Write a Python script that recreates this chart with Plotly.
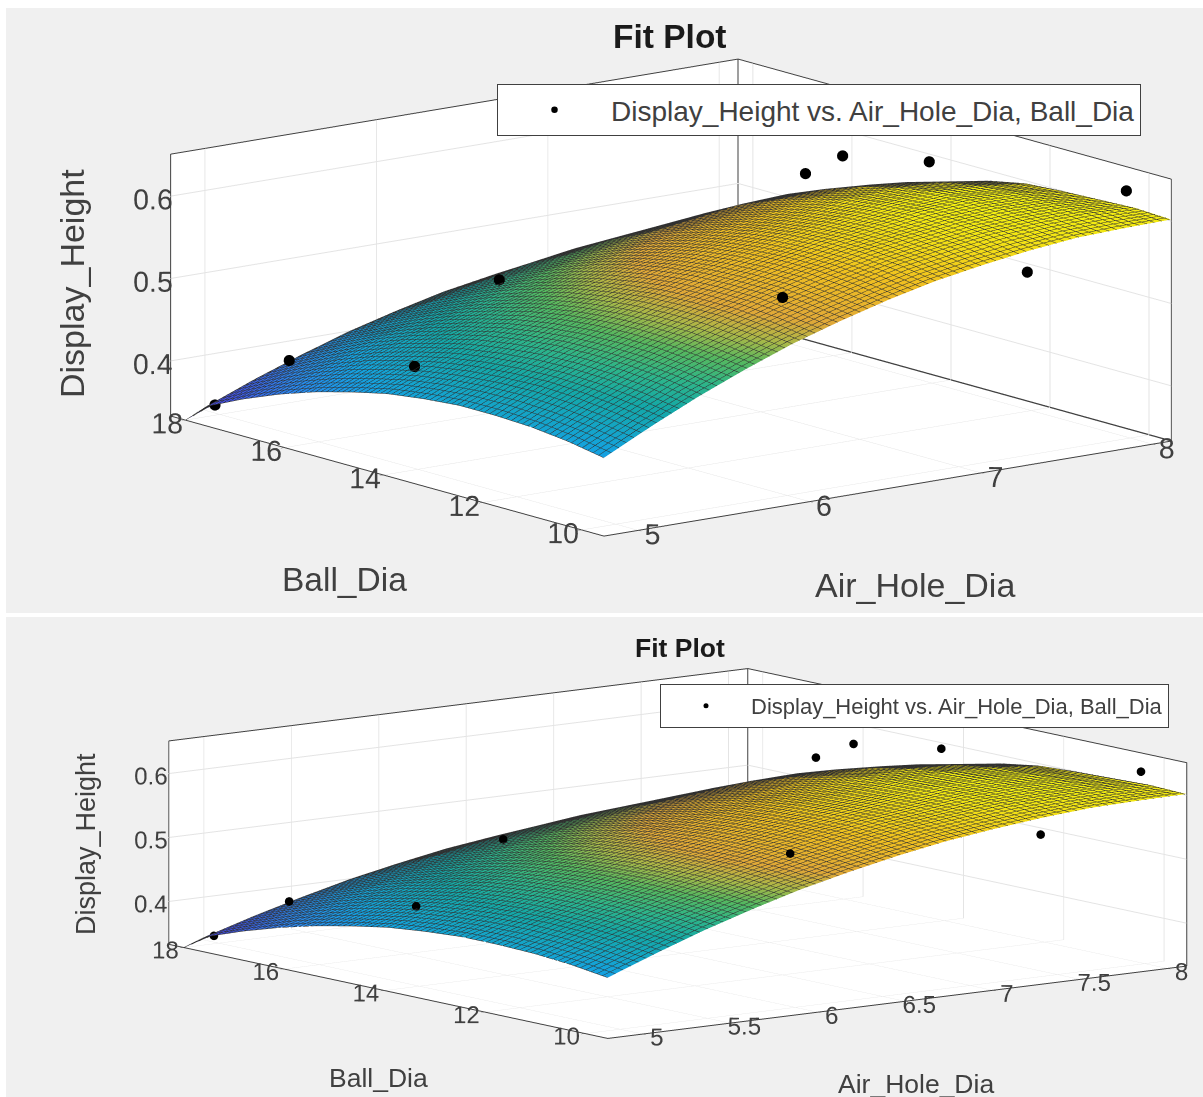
import plotly.graph_objects as go

AIR_GRID = [4.80, 5.08, 5.35, 5.63, 5.90, 6.18, 6.46, 6.73, 7.01, 7.28, 7.56, 7.83, 8.11]
BALL_GRID = [18.0, 17.57, 16.84, 16.11, 15.38, 14.65, 13.93, 13.20, 12.47, 11.74, 11.01, 10.28, 9.55]
H_B1800 = [.333, .356, .376, .393, .408, .420, .430, .437, .441, .443, .442, .439, .433]
H_B1757 = [.357, .380, .400, .419, .434, .448, .458, .466, .472, .474, .474, .470, .463]
H_B1684 = [.378, .401, .422, .441, .458, .472, .484, .493, .499, .502, .502, .498, .490]
H_B1611 = [.396, .420, .442, .461, .478, .493, .506, .516, .523, .529, .530, .526, .517]
H_B1538 = [.411, .436, .458, .478, .496, .512, .525, .536, .544, .552, .555, .551, .541]
H_B1465 = [.423, .448, .471, .492, .510, .527, .541, .552, .561, .570, .573, .569, .560]
H_B1393 = [.433, .458, .482, .503, .522, .539, .553, .565, .575, .584, .588, .584, .575]
H_B1320 = [.439, .465, .489, .511, .530, .548, .563, .575, .585, .595, .599, .596, .588]
H_B1247 = [.443, .469, .494, .516, .536, .554, .569, .582, .592, .601, .606, .604, .597]
H_B1174 = [.443, .471, .495, .518, .538, .556, .572, .585, .595, .604, .608, .607, .600]
H_B1101 = [.441, .469, .494, .517, .538, .556, .572, .585, .595, .603, .607, .607, .602]
H_B1028 = [.436, .464, .490, .513, .534, .552, .568, .582, .592, .600, .604, .606, .604]
H_B0955 = [.428, .457, .483, .507, .528, .546, .562, .575, .585, .593, .599, .601, .602]
SURFACE = [H_B1800, H_B1757, H_B1684, H_B1611, H_B1538, H_B1465, H_B1393,
           H_B1320, H_B1247, H_B1174, H_B1101, H_B1028, H_B0955]

POINT_AIR = [5, 5, 5, 6, 6, 8, 8, 8, 8, 8]
POINT_BALL = [18.1, 16.6, 14.07, 15.82, 10.1, 16.56, 15.81, 14.06, 10.08, 12.08]
POINT_HEIGHT = [.343, .422, .457, .498, .572, .545, .579, .601, .632, .500]

AIR_RANGE = [4.8, 8.11]
BALL_RANGE = [9.55, 18.3]
Z_RANGE = [.333, .651]
TOP_AIR_TICKS = [5, 6, 7, 8]
BOTTOM_AIR_TICKS = [5, 5.5, 6, 6.5, 7, 7.5, 8]
BALL_TICKS = [10, 12, 14, 16, 18]
Z_TICKS = [.4, .5, .6]

LEGEND_NAME = "Display_Height vs. Air_Hole_Dia, Ball_Dia"
PARULA = [[0, "#3e26a8"], [.13, "#4352ee"], [.25, "#2a86ee"], [.36, "#14a2e0"], [.5, "#14a8a8"],
          [.58, "#2db58a"], [.65, "#55b860"], [.71, "#a8b848"], [.77, "#e0a838"], [.88, "#f0c020"],
          [1, "#f4f010"]]
FONT = "Liberation Sans, Arial, sans-serif"
TEXT = "#404040"
EDGE = "#404040"
W, H = 1203, 1097

fig = go.Figure()


def add_panel(scene, legend, marker_size):
    x0, x1 = AIR_RANGE
    y0, y1 = BALL_RANGE
    z0, z1 = Z_RANGE
    fig.add_trace(go.Surface(
        x=AIR_GRID, y=BALL_GRID, z=SURFACE, scene=scene, colorscale=PARULA,
        cmin=.333, cmax=.607, showscale=False, showlegend=False,
        lighting=dict(ambient=1, diffuse=0, specular=0, roughness=1, fresnel=0),
        contours=dict(
            x=dict(show=True, start=4.8, end=8.11, size=.044, color="#303030", width=1),
            y=dict(show=True, start=9.55, end=18.0, size=.11, color="#303030", width=1),
        ),
    ))
    # back vertical edge and back floor edge of the axes box
    for sx, sy, sz in [([x1, x1], [y1, y1], [z0, z1]), ([x1, x1], [y0, y1], [z0, z0])]:
        fig.add_trace(go.Scatter3d(x=sx, y=sy, z=sz, mode="lines", scene=scene, showlegend=False,
                                   hoverinfo="skip", line=dict(color=EDGE, width=3)))
    fig.add_trace(go.Scatter3d(x=POINT_AIR, y=POINT_BALL, z=POINT_HEIGHT, mode="markers", scene=scene,
                               name=LEGEND_NAME, legend=legend, showlegend=True,
                               marker=dict(color="black", size=marker_size, line=dict(width=0))))


add_panel("scene", "legend", 6.5)
add_panel("scene2", "legend2", 5)


def axis(ticks, rng, size, ticklen, tickcolor):
    return dict(title=dict(text=""), tickmode="array", tickvals=ticks, ticktext=[f"{t:g}" for t in ticks],
                range=rng, showbackground=True, backgroundcolor="white", gridcolor="#e4e4e4",
                showgrid=True, zeroline=False, showline=True, mirror=True, linecolor=EDGE, linewidth=2,
                showspikes=False, tickangle=0, ticks="outside", ticklen=ticklen, tickcolor=tickcolor,
                tickfont=dict(family=FONT, size=size, color=TEXT))


def camera(e, d, px_per_unit, right, up, r):
    cx = -right / px_per_unit * r[0]
    cy = -right / px_per_unit * r[1]
    cz = -up / px_per_unit
    return dict(center=dict(x=cx, y=cy, z=cz),
                eye=dict(x=cx + d * e[0], y=cy + d * e[1], z=cz + d * e[2]),
                up=dict(x=0, y=0, z=1), projection=dict(type="orthographic"))


fig.update_layout(
    width=W, height=H, margin=dict(l=0, r=0, t=0, b=0), paper_bgcolor="white", showlegend=True,
    scene=dict(
        domain=dict(x=[0, 1], y=[1 - 613 / H, 1]),
        xaxis=axis(TOP_AIR_TICKS, AIR_RANGE, 18.5, 5, TEXT),
        yaxis=axis(BALL_TICKS, BALL_RANGE, 18.5, 5, TEXT),
        zaxis=axis(Z_TICKS, Z_RANGE, 18.5, 20, "#f0f0f0"),
        aspectmode="manual", aspectratio=dict(x=2.345, y=2.345 * .982, z=.875),
        camera=camera((-.5995, -.7709, .2155), 5, 302, 68.5, 9, (.789, -.614)),
    ),
    scene2=dict(
        domain=dict(x=[0, 1], y=[0, 1 - 613 / H]),
        xaxis=axis(BOTTOM_AIR_TICKS, AIR_RANGE, 17, 5, TEXT),
        yaxis=axis(BALL_TICKS, BALL_RANGE, 17, 5, TEXT),
        zaxis=axis(Z_TICKS, Z_RANGE, 17, 16, "#f0f0f0"),
        aspectmode="manual", aspectratio=dict(x=3.01, y=3.01 * .993, z=3.01 * .283),
        camera=camera((-.5986, -.7840, .1637), 5, 238, 75, 1.5, (.795, -.607)),
    ),
    legend=dict(x=497 / W, y=1 - 84 / H, xanchor="left", yanchor="top", bgcolor="white", bordercolor=TEXT,
                borderwidth=1, font=dict(family=FONT, size=28, color=TEXT), itemwidth=103),
    legend2=dict(x=660 / W, y=1 - 684 / H, xanchor="left", yanchor="top", bgcolor="white", bordercolor=TEXT,
                 borderwidth=1, font=dict(family=FONT, size=22, color=TEXT), itemwidth=80),
    shapes=[
        dict(type="rect", xref="paper", yref="paper", x0=6 / W, x1=1, y0=1 - 8 / H, y1=1 - 613 / H,
             fillcolor="#f0f0f0", line_width=0, layer="below"),
        dict(type="rect", xref="paper", yref="paper", x0=6 / W, x1=1, y0=1 - 617 / H, y1=0,
             fillcolor="#f0f0f0", line_width=0, layer="below"),
    ],
)


def label(text, x, y, size, bold=False, angle=0):
    fig.add_annotation(text=f"<b>{text}</b>" if bold else text, x=x / W, y=1 - y / H, xref="paper", yref="paper",
                       showarrow=False, textangle=angle, xanchor="center", yanchor="middle",
                       font=dict(family=FONT, size=size, color="#1a1a1a" if bold else TEXT))


label("Fit Plot", 670, 37, 33.5, True)
label("Display_Height", 72, 284, 34, angle=-90)
label("Ball_Dia", 344, 579, 33.5)
label("Air_Hole_Dia", 915, 585, 34)
label("Fit Plot", 680, 648, 26.5, True)
label("Display_Height", 86, 844, 27, angle=-90)
label("Ball_Dia", 378, 1078, 26.5)
label("Air_Hole_Dia", 916, 1084, 26.5)

fig.write_html("out.html", config=dict(displayModeBar=False),
               post_script="document.body.style.margin='0';document.body.style.overflow='hidden';")
